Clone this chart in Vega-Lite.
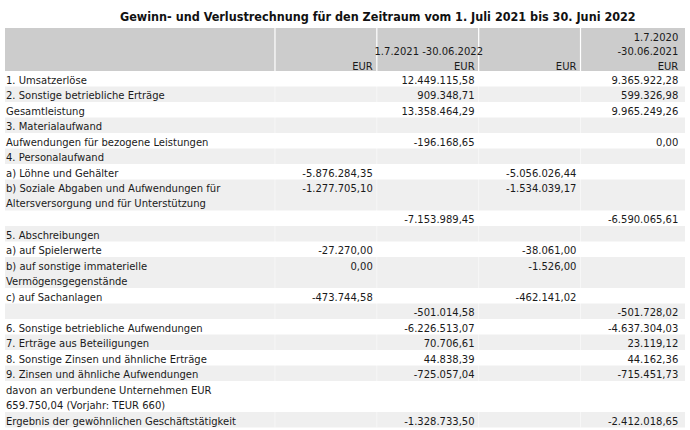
{
  "$schema": "https://vega.github.io/schema/vega-lite/v6.json",
  "width": 690,
  "height": 430,
  "padding": 0,
  "autosize": {"type": "fit", "contains": "padding"},
  "background": "white",
  "config": {
    "view": {"stroke": null},
    "locale": {"number": {"decimal": ",", "thousands": ".", "grouping": [3], "currency": ["", " €"], "minus": "-"}},
    "text": {"font": "DejaVu Sans", "fontSize": 10, "color": "#1a1a1a"}
  },
  "datasets": {
    "rows": [
      {"row": 1, "line": 0, "end": 1, "label": "1. Umsatzerlöse", "c2": 12449115.58, "c4": 9365922.28},
      {"row": 2, "line": 1, "end": 2, "label": "2. Sonstige betriebliche Erträge", "c2": 909348.71, "c4": 599326.98},
      {"row": 3, "line": 2, "end": 3, "label": "Gesamtleistung", "c2": 13358464.29, "c4": 9965249.26},
      {"row": 4, "line": 3, "end": 4, "label": "3. Materialaufwand"},
      {"row": 5, "line": 4, "end": 5, "label": "Aufwendungen für bezogene Leistungen", "c2": -196168.65, "c4": 0},
      {"row": 6, "line": 5, "end": 6, "label": "4. Personalaufwand"},
      {"row": 7, "line": 6, "end": 7, "label": "a) Löhne und Gehälter", "c1": -5876284.35, "c3": -5056026.44},
      {"row": 8, "line": 7, "end": 9, "label": "b) Soziale Abgaben und Aufwendungen für\nAltersversorgung und für Unterstützung", "c1": -1277705.10, "c3": -1534039.17},
      {"row": 9, "line": 9, "end": 10, "label": "", "c2": -7153989.45, "c4": -6590065.61},
      {"row": 10, "line": 10, "end": 11, "label": "5. Abschreibungen"},
      {"row": 11, "line": 11, "end": 12, "label": "a) auf Spielerwerte", "c1": -27270.00, "c3": -38061.00},
      {"row": 12, "line": 12, "end": 14, "label": "b) auf sonstige immaterielle\nVermögensgegenstände", "c1": 0.00, "c3": -1526.00},
      {"row": 13, "line": 14, "end": 15, "label": "c) auf Sachanlagen", "c1": -473744.58, "c3": -462141.02},
      {"row": 14, "line": 15, "end": 16, "label": "", "c2": -501014.58, "c4": -501728.02},
      {"row": 15, "line": 16, "end": 17, "label": "6. Sonstige betriebliche Aufwendungen", "c2": -6226513.07, "c4": -4637304.03},
      {"row": 16, "line": 17, "end": 18, "label": "7. Erträge aus Beteiligungen", "c2": 70706.61, "c4": 23119.12},
      {"row": 17, "line": 18, "end": 19, "label": "8. Sonstige Zinsen und ähnliche Erträge", "c2": 44838.39, "c4": 44162.36},
      {"row": 18, "line": 19, "end": 20, "label": "9. Zinsen und ähnliche Aufwendungen", "c2": -725057.04, "c4": -715451.73},
      {"row": 19, "line": 20, "end": 22, "label": "davon an verbundene Unternehmen EUR\n659.750,04 (Vorjahr: TEUR 660)"},
      {"row": 20, "line": 22, "end": 23, "label": "Ergebnis der gewöhnlichen Geschäftstätigkeit", "c2": -1328733.50, "c4": -2412018.65}
    ],
    "units": [
      {"col": 1, "unit": "EUR"},
      {"col": 2, "unit": "EUR"},
      {"col": 3, "unit": "EUR"},
      {"col": 4, "unit": "EUR"}
    ],
    "seps": [
      {"after": 0.04},
      {"after": 1.04},
      {"after": 2.04},
      {"after": 3.04}
    ]
  },
  "layer": [
    {
      "data": {"values": [{}]},
      "mark": {"type": "rect", "color": "#cccccc"},
      "encoding": {
        "x": {"datum": -2.611, "type": "quantitative", "scale": {"domain": [-2.66, 4.115], "nice": false, "zero": false}, "axis": null},
        "x2": {"datum": 4.066},
        "y": {"datum": -2.774, "type": "quantitative", "scale": {"domain": [-4.581, 23.161], "reverse": true, "nice": false, "zero": false}, "axis": null},
        "y2": {"datum": 0}
      }
    },
    {
      "data": {"name": "rows"},
      "transform": [{"filter": "datum.row % 2 === 0"}],
      "mark": {"type": "rect", "color": "#efefef"},
      "encoding": {
        "x": {"datum": -2.611, "type": "quantitative", "scale": {"domain": [-2.66, 4.115], "nice": false, "zero": false}, "axis": null},
        "x2": {"datum": 4.066},
        "y": {"field": "line", "type": "quantitative", "scale": {"domain": [-4.581, 23.161], "reverse": true, "nice": false, "zero": false}, "axis": null},
        "y2": {"field": "end"}
      }
    },
    {
      "data": {"name": "seps"},
      "mark": {"type": "rule", "color": "white", "strokeWidth": 1.2},
      "encoding": {
        "x": {"field": "after", "type": "quantitative", "scale": {"domain": [-2.66, 4.115], "nice": false, "zero": false}, "axis": null},
        "y": {"datum": -2.774, "type": "quantitative", "scale": {"domain": [-4.581, 23.161], "reverse": true, "nice": false, "zero": false}, "axis": null},
        "y2": {"datum": 0}
      }
    },
    {
      "data": {"name": "seps"},
      "mark": {"type": "rule", "color": "white", "strokeWidth": 1, "opacity": 0.5},
      "encoding": {
        "x": {"field": "after", "type": "quantitative", "scale": {"domain": [-2.66, 4.115], "nice": false, "zero": false}, "axis": null},
        "y": {"datum": 0, "type": "quantitative", "scale": {"domain": [-4.581, 23.161], "reverse": true, "nice": false, "zero": false}, "axis": null},
        "y2": {"datum": 23}
      }
    },
    {
      "data": {"values": [{"title": "Gewinn- und Verlustrechnung für den Zeitraum vom 1. Juli 2021 bis 30. Juni 2022"}]},
      "mark": {"type": "text", "font": "DejaVu Sans Condensed", "fontWeight": "bold", "fontSize": 12.5, "align": "center", "baseline": "middle", "color": "#111"},
      "encoding": {
        "x": {"datum": 1.05, "type": "quantitative", "scale": {"domain": [-2.66, 4.115], "nice": false, "zero": false}, "axis": null},
        "y": {"datum": -3.48, "type": "quantitative", "scale": {"domain": [-4.581, 23.161], "reverse": true, "nice": false, "zero": false}, "axis": null},
        "text": {"field": "title"}
      }
    },
    {
      "data": {"values": [{"period": "1.7.2021 -30.06.2022"}]},
      "mark": {"type": "text", "align": "center", "baseline": "middle"},
      "encoding": {
        "x": {"datum": 1.55, "type": "quantitative", "scale": {"domain": [-2.66, 4.115], "nice": false, "zero": false}, "axis": null},
        "y": {"datum": -1.25, "type": "quantitative", "scale": {"domain": [-4.581, 23.161], "reverse": true, "nice": false, "zero": false}, "axis": null},
        "text": {"field": "period"}
      }
    },
    {
      "data": {"values": [{"period": "1.7.2020"}]},
      "mark": {"type": "text", "align": "right", "baseline": "middle"},
      "encoding": {
        "x": {"datum": 4, "type": "quantitative", "scale": {"domain": [-2.66, 4.115], "nice": false, "zero": false}, "axis": null},
        "y": {"datum": -2.1, "type": "quantitative", "scale": {"domain": [-4.581, 23.161], "reverse": true, "nice": false, "zero": false}, "axis": null},
        "text": {"field": "period"}
      }
    },
    {
      "data": {"values": [{"period": "-30.06.2021"}]},
      "mark": {"type": "text", "align": "right", "baseline": "middle"},
      "encoding": {
        "x": {"datum": 4, "type": "quantitative", "scale": {"domain": [-2.66, 4.115], "nice": false, "zero": false}, "axis": null},
        "y": {"datum": -1.25, "type": "quantitative", "scale": {"domain": [-4.581, 23.161], "reverse": true, "nice": false, "zero": false}, "axis": null},
        "text": {"field": "period"}
      }
    },
    {
      "data": {"name": "units"},
      "mark": {"type": "text", "align": "right", "baseline": "middle"},
      "encoding": {
        "x": {"field": "col", "type": "quantitative", "scale": {"domain": [-2.66, 4.115], "nice": false, "zero": false}, "axis": null},
        "y": {"datum": -0.29, "type": "quantitative", "scale": {"domain": [-4.581, 23.161], "reverse": true, "nice": false, "zero": false}, "axis": null},
        "text": {"field": "unit"}
      }
    },
    {
      "data": {"name": "rows"},
      "transform": [{"filter": "datum.label !== ''"}],
      "mark": {"type": "text", "align": "left", "baseline": "alphabetic", "dy": 12.5, "lineBreak": "\n", "lineHeight": 15},
      "encoding": {
        "x": {"datum": -2.601, "type": "quantitative", "scale": {"domain": [-2.66, 4.115], "nice": false, "zero": false}, "axis": null},
        "y": {"field": "line", "type": "quantitative", "scale": {"domain": [-4.581, 23.161], "reverse": true, "nice": false, "zero": false}, "axis": null},
        "text": {"field": "label"}
      }
    },
    {
      "data": {"name": "rows"},
      "transform": [{"filter": {"field": "c1", "valid": true}}],
      "mark": {"type": "text", "align": "right", "baseline": "alphabetic", "dy": 12.5},
      "encoding": {
        "x": {"datum": 1, "type": "quantitative", "scale": {"domain": [-2.66, 4.115], "nice": false, "zero": false}, "axis": null},
        "y": {"field": "line", "type": "quantitative", "scale": {"domain": [-4.581, 23.161], "reverse": true, "nice": false, "zero": false}, "axis": null},
        "text": {"field": "c1", "type": "quantitative", "format": ",.2f"}
      }
    },
    {
      "data": {"name": "rows"},
      "transform": [{"filter": {"field": "c2", "valid": true}}],
      "mark": {"type": "text", "align": "right", "baseline": "alphabetic", "dy": 12.5},
      "encoding": {
        "x": {"datum": 2, "type": "quantitative", "scale": {"domain": [-2.66, 4.115], "nice": false, "zero": false}, "axis": null},
        "y": {"field": "line", "type": "quantitative", "scale": {"domain": [-4.581, 23.161], "reverse": true, "nice": false, "zero": false}, "axis": null},
        "text": {"field": "c2", "type": "quantitative", "format": ",.2f"}
      }
    },
    {
      "data": {"name": "rows"},
      "transform": [{"filter": {"field": "c3", "valid": true}}],
      "mark": {"type": "text", "align": "right", "baseline": "alphabetic", "dy": 12.5},
      "encoding": {
        "x": {"datum": 3, "type": "quantitative", "scale": {"domain": [-2.66, 4.115], "nice": false, "zero": false}, "axis": null},
        "y": {"field": "line", "type": "quantitative", "scale": {"domain": [-4.581, 23.161], "reverse": true, "nice": false, "zero": false}, "axis": null},
        "text": {"field": "c3", "type": "quantitative", "format": ",.2f"}
      }
    },
    {
      "data": {"name": "rows"},
      "transform": [{"filter": {"field": "c4", "valid": true}}],
      "mark": {"type": "text", "align": "right", "baseline": "alphabetic", "dy": 12.5},
      "encoding": {
        "x": {"datum": 4, "type": "quantitative", "scale": {"domain": [-2.66, 4.115], "nice": false, "zero": false}, "axis": null},
        "y": {"field": "line", "type": "quantitative", "scale": {"domain": [-4.581, 23.161], "reverse": true, "nice": false, "zero": false}, "axis": null},
        "text": {"field": "c4", "type": "quantitative", "format": ",.2f"}
      }
    }
  ]
}
